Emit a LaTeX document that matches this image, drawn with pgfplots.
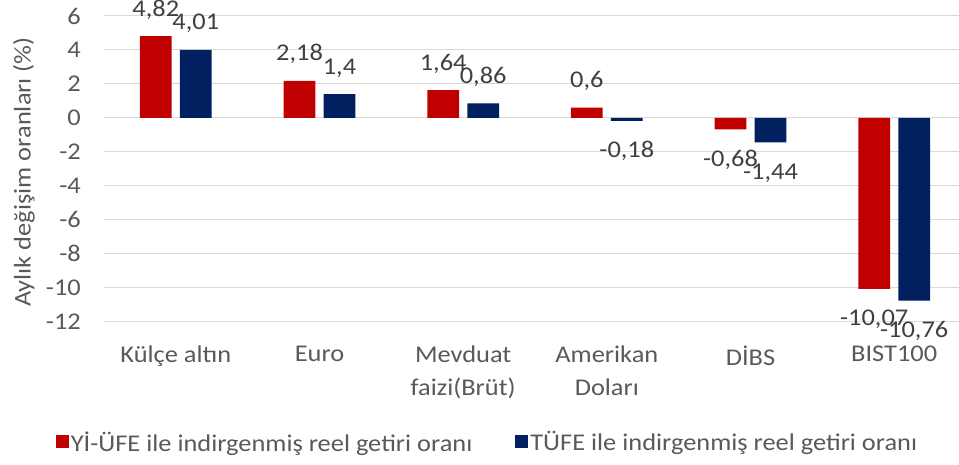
\documentclass[border=0pt]{standalone}
\usepackage{fontspec}
\setmainfont{Carlito}[FakeStretch=1.1]
\usepackage{pgfplots}
\pgfplotsset{compat=1.18}
\definecolor{cred}{HTML}{C00000}
\definecolor{cnavy}{HTML}{002060}
\definecolor{ctext}{HTML}{595959}
\definecolor{clab}{HTML}{404040}
\definecolor{cgrid}{HTML}{D9D9D9}
\pgfplotsset{
  poslab/.style={every node near coord/.append style={font=\fontsize{24}{28}\selectfont, text=clab, inner sep=0pt, anchor=base, yshift=20pt}},
  neglab/.style={every node near coord/.append style={font=\fontsize{24}{28}\selectfont, text=clab, inner sep=0pt, anchor=base, yshift=-37pt}},
}
\begin{document}
\begin{tikzpicture}
\useasboundingbox (0pt,0pt) rectangle (959pt,464pt);
\begin{axis}[
  at={(104pt,142.3pt)}, anchor=south west,
  scale only axis, width=862pt, height=305.7pt,
  xmin=-0.5, xmax=5.5, ymin=-12, ymax=6,
  enlargelimits=false, clip=false,
  ybar, bar width=31.8pt,
  axis line style={draw=none},
  major tick length=0pt,
  ymajorgrids, grid style={cgrid, line width=1pt},
  xtick={0,1,2,3,4,5},
  xticklabels={Külçe altın, Euro, {Mevduat\\faizi(Brüt)}, {Amerikan\\Doları}, DİBS, BIST100},
  xticklabel style={font=\fontsize{24}{33}\selectfont, text=ctext, align=center, anchor=north, inner sep=0pt, yshift=-24pt},
  ytick={-12,-10,-8,-6,-4,-2,0,2,4,6},
  yticklabels={-12,-10,-8,-6,-4,-2,0,2,4,6},
  yticklabel style={font=\fontsize{24}{28}\selectfont, text=ctext, anchor=east, inner sep=0pt, xshift=-23pt},
  ylabel={Aylık değişim oranları (\%)},
  ylabel style={at={(axis description cs:-0.093,0.4897)}, anchor=center, font=\fontsize{24}{28}\selectfont, text=ctext},
  point meta=explicit symbolic,
  nodes near coords,
  legend style={at={(axis description cs:0.4449,-0.3935)}, anchor=center, draw=none, fill=none, font=\fontsize{24}{28}\selectfont, text=ctext, legend columns=2, /tikz/every even column/.append style={column sep=41pt}, inner sep=0pt, nodes={inner xsep=2pt, inner ysep=0pt}},
  legend cell align=left,
]
% positive values
\addplot[fill=cred, draw=none, bar shift=-20pt, poslab,
  legend image code/.code={\fill[cred] (0pt,-6.5pt) rectangle (13pt,6.5pt);}]
 coordinates {(0,4.82) [4,82] (1,2.18) [2,18] (2,1.64) [1,64] (3,0.6) [0,6]};
\addlegendentry{Yİ-ÜFE ile indirgenmiş reel getiri oranı}
\addplot[fill=cnavy, draw=none, bar shift=20pt, poslab,
  legend image code/.code={\fill[cnavy] (0pt,-6.5pt) rectangle (13pt,6.5pt);}]
 coordinates {(0,4.01) [4,01] (1,1.4) [1,4] (2,0.86) [0,86]};
\addlegendentry{TÜFE ile indirgenmiş reel getiri oranı}
% negative values
\addplot[fill=cred, draw=none, bar shift=-20pt, neglab, forget plot]
 coordinates {(4,-0.68) [-0,68] (5,-10.07) [-10,07]};
\addplot[fill=cnavy, draw=none, bar shift=20pt, neglab, forget plot]
 coordinates {(3,-0.18) [-0,18] (4,-1.44) [-1,44] (5,-10.76) [-10,76]};
\end{axis}
\end{tikzpicture}
\end{document}
